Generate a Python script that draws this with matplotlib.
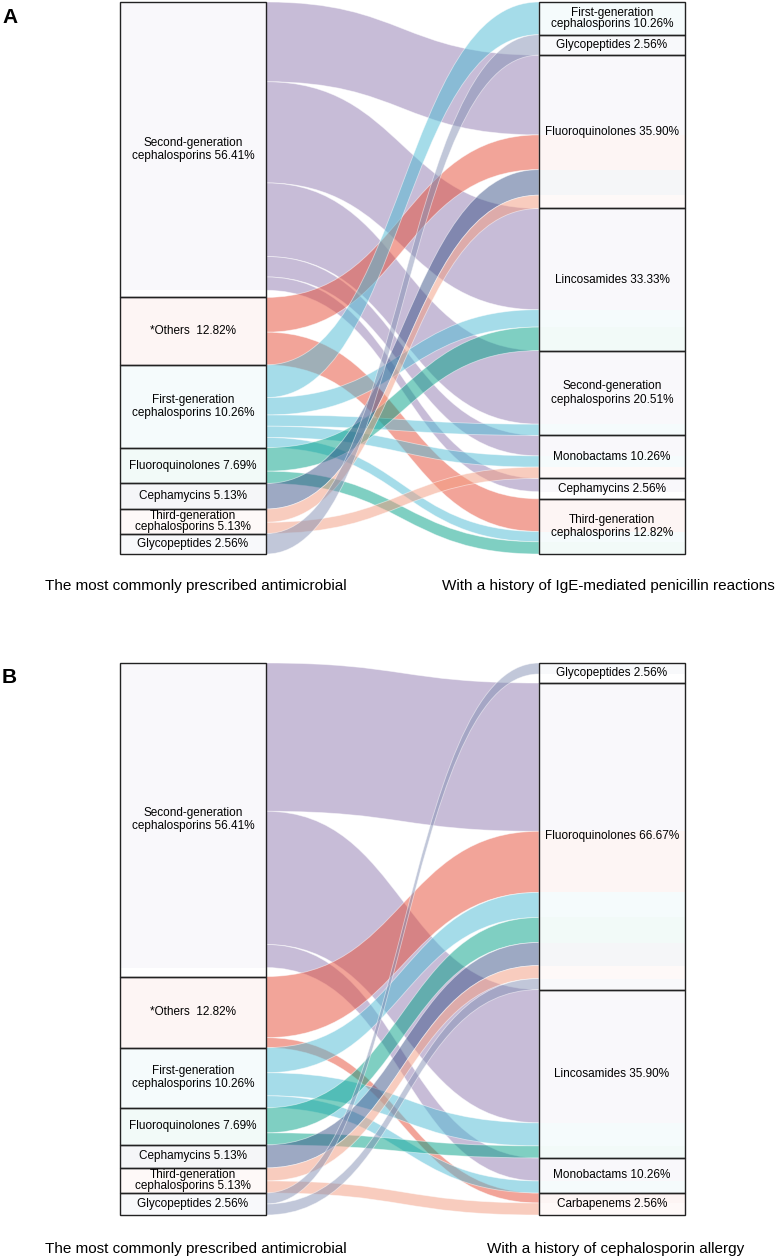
import matplotlib
matplotlib.use("Agg")
import matplotlib.pyplot as plt
from matplotlib.path import Path
from matplotlib.patches import PathPatch, Rectangle

plt.rcParams['font.family'] = ['Liberation Sans', 'DejaVu Sans']

# left column, same for both panels
left_names = ["Second-generation\ncephalosporins 56.41%", "*Others  12.82%",
              "First-generation\ncephalosporins 10.26%", "Fluoroquinolones 7.69%",
              "Cephamycins 5.13%", "Third-generation\ncephalosporins 5.13%",
              "Glycopeptides 2.56%"]
left_colors = ["#917BB1", "#E64B35", "#4DBBD5", "#00A087", "#3C5488", "#F39B7F", "#8491B4"]

# panel A: IgE-mediated penicillin reactions
right_names_a = ["First-generation\ncephalosporins 10.26%", "Glycopeptides 2.56%",
                 "Fluoroquinolones 35.90%", "Lincosamides 33.33%",
                 "Second-generation\ncephalosporins 20.51%", "Monobactams 10.26%",
                 "Cephamycins 2.56%", "Third-generation\ncephalosporins 12.82%"]
src_a = [0, 0, 0, 0, 0, 1, 1, 2, 2, 2, 2, 2, 3, 3, 4, 5, 5, 6]
tgt_a = [2, 3, 4, 5, 6, 2, 7, 0, 3, 4, 5, 7, 3, 7, 2, 2, 5, 1]
val_a = [78, 99, 72, 20, 13, 34, 32, 32, 17, 11, 11, 10, 23, 12, 25, 13, 11, 20]

# panel B: cephalosporin allergy
right_names_b = ["Glycopeptides 2.56%", "Fluoroquinolones 66.67%", "Lincosamides 35.90%",
                 "Monobactams 10.26%", "Carbapenems 2.56%"]
src_b = [0, 0, 0, 1, 1, 2, 2, 2, 3, 3, 4, 5, 5, 6, 6]
tgt_b = [1, 2, 3, 1, 4, 1, 2, 3, 1, 2, 1, 1, 4, 0, 1]
val_b = [148, 133, 23, 61, 10, 25, 23, 12, 25, 12, 23, 13, 12, 11, 11]

caption_left = "The most commonly prescribed antimicrobial"
caption_a = "With a history of IgE-mediated penicillin reactions"
caption_b = "With a history of cephalosporin allergy"

MIN_NODE = 20
XL0, XL1 = 120, 266
XR0, XR1 = 539, 685


def node_sizes(n, idx, vals):
    s = [0.0] * n
    for i, v in zip(idx, vals):
        s[i] += v
    return s


def draw_sankey(ax, y0, H, right_names, src, tgt, val):
    nl, nr = len(left_names), len(right_names)
    fl = node_sizes(nl, src, val)
    fr = node_sizes(nr, tgt, val)
    hl = [max(v, MIN_NODE) for v in fl]
    hr = [max(v, MIN_NODE) for v in fr]
    # balance the two columns by padding the biggest node of the short side
    diff = sum(hr) - sum(hl)
    if diff > 0:
        hl[hl.index(max(hl))] += diff
    elif diff < 0:
        hr[hr.index(max(hr))] -= diff
    k = H / sum(hl)

    def tops(h):
        out, y = [], y0
        for v in h:
            out.append(y)
            y += v * k
        return out
    tl, tr = tops(hl), tops(hr)

    order = range(len(val))
    # stacking position of each flow at its source / target
    ys = {}
    cur = list(tl)
    for f in sorted(order, key=lambda f: (src[f], tgt[f])):
        ys[f] = cur[src[f]]
        cur[src[f]] += val[f] * k
    yt = {}
    cur = list(tr)
    for f in sorted(order, key=lambda f: (tgt[f], src[f])):
        yt[f] = cur[tgt[f]]
        cur[tgt[f]] += val[f] * k

    xm = (XL1 + XR0) / 2
    for f in order:
        c = left_colors[src[f]]
        w = val[f] * k
        a0, a1 = ys[f], ys[f] + w
        b0, b1 = yt[f], yt[f] + w
        verts = [(XL1, a0), (xm, a0), (xm, b0), (XR0, b0), (XR0, b1),
                 (xm, b1), (xm, a1), (XL1, a1), (XL1, a0)]
        codes = [Path.MOVETO, Path.CURVE4, Path.CURVE4, Path.CURVE4, Path.LINETO,
                 Path.CURVE4, Path.CURVE4, Path.CURVE4, Path.CLOSEPOLY]
        ax.add_patch(PathPatch(Path(verts, codes), facecolor=c, alpha=0.5,
                               edgecolor='white', lw=0.6, zorder=2))
        # faint band inside the node boxes
        ax.add_patch(Rectangle((XL0, a0), XL1 - XL0, w, facecolor=c, alpha=0.05,
                               lw=0, zorder=1))
        ax.add_patch(Rectangle((XR0, b0), XR1 - XR0, w, facecolor=c, alpha=0.05,
                               lw=0, zorder=1))

    for names, t, h, x0, x1 in ((left_names, tl, hl, XL0, XL1),
                                (right_names, tr, hr, XR0, XR1)):
        for name, y, v in zip(names, t, h):
            ax.add_patch(Rectangle((x0, y), x1 - x0, v * k, fill=False,
                                   edgecolor='#222222', lw=1.0, zorder=3))
            ls = 0.95 if v * k < 36 else 1.15
            ax.text((x0 + x1) / 2, y + v * k / 2, name, ha='center', va='center',
                    fontsize=8.5, linespacing=ls, zorder=4)


fig = plt.figure(figsize=(7.79, 12.59), dpi=100)
ax = fig.add_axes([0, 0, 1, 1])
ax.set_xlim(0, 779)
ax.set_ylim(1259, 0)
ax.axis('off')

draw_sankey(ax, 2, 552, right_names_a, src_a, tgt_a, val_a)
draw_sankey(ax, 663, 552, right_names_b, src_b, tgt_b, val_b)

ax.text(2, 17, "A", fontsize=15, fontweight='bold', va='center', ha='left')
ax.text(2, 677, "B", fontsize=15, fontweight='bold', va='center', ha='left')
ax.text(196, 586, caption_left, fontsize=11, ha='center', va='center')
ax.text(608, 586, caption_a, fontsize=11, ha='center', va='center')
ax.text(196, 1249, caption_left, fontsize=11, ha='center', va='center')
ax.text(616, 1249, caption_b, fontsize=11, ha='center', va='center')

fig.savefig("out.png", dpi=100)
